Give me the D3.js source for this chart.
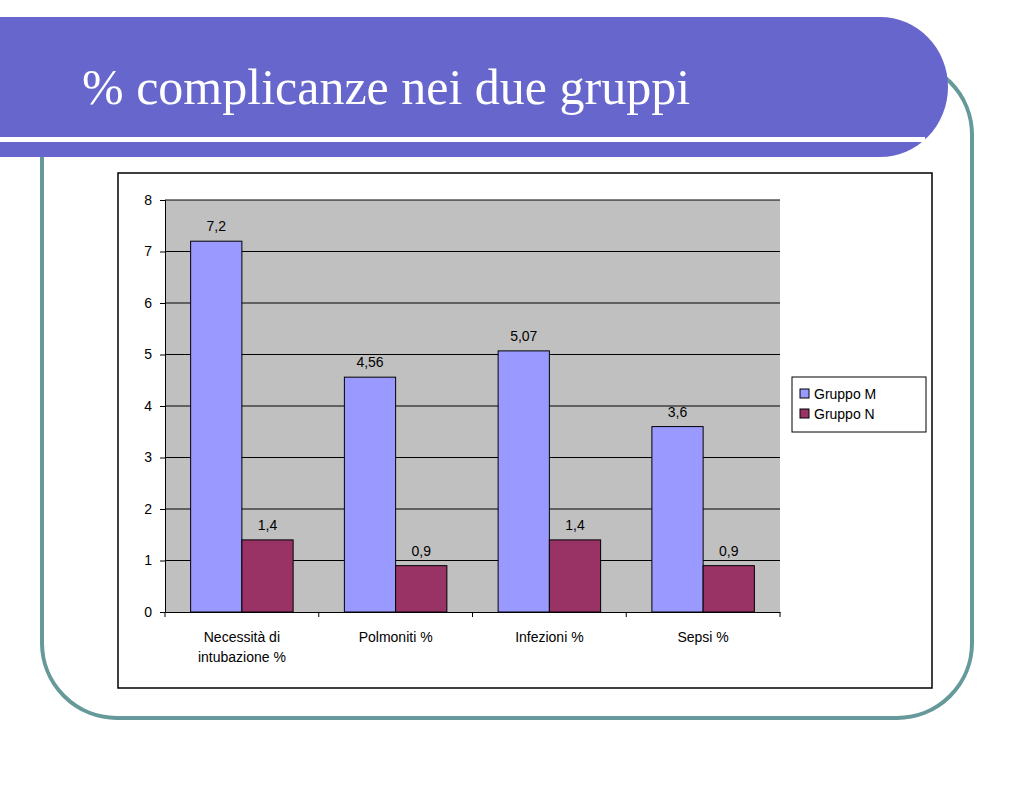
<!DOCTYPE html>
<html><head><meta charset="utf-8">
<script src="https://cdn.jsdelivr.net/npm/d3@7"></script>
<style>body{margin:0;background:#fff}</style>
</head><body>
<script>
const categories = ["Necessità di|intubazione %", "Polmoniti %", "Infezioni %", "Sepsi %"]
const seriesNames = ["Gruppo M", "Gruppo N"]
const gruppoM = [7.2, 4.56, 5.07, 3.6]
const gruppoN = [1.4, 0.9, 1.4, 0.9]
const labelsM = ["7,2", "4,56", "5,07", "3,6"]
const labelsN = ["1,4", "0,9", "1,4", "0,9"]
const yTicks = [0, 1, 2, 3, 4, 5, 6, 7, 8]
const colors = ["#9999ff", "#993366"]

const svg = d3.select("body").append("svg").attr("width", 1023).attr("height", 787)

// teal frame
svg.append("rect").attr("x", 42).attr("y", 60).attr("width", 930).attr("height", 658)
  .attr("rx", 75).attr("fill", "none").attr("stroke", "#669999").attr("stroke-width", 4)

// banner
svg.append("path")
  .attr("d", "M0,17 H880 A68,70 0 0 1 948,87 A68,70 0 0 1 880,157 H0 Z")
  .attr("fill", "#6666cc")
svg.append("rect").attr("x", 0).attr("y", 137).attr("width", 925).attr("height", 5).attr("fill", "#fff")
svg.append("text").attr("x", 82).attr("y", 104)
  .style("font-family", "Liberation Serif, serif").style("font-size", "50px").attr("fill", "#fff")
  .text("% complicanze nei due gruppi")

// chart box
svg.append("rect").attr("x", 118).attr("y", 173).attr("width", 814).attr("height", 515)
  .attr("fill", "#fff").attr("stroke", "#000").attr("stroke-width", 1.5)

const m = {l: 165, r: 780, t: 200, b: 612}
const x = d3.scaleBand().domain(categories).range([m.l, m.r])
const xs = d3.scaleBand().domain(seriesNames).range([0, x.bandwidth()]).paddingInner(0).paddingOuter(0.5)
const y = d3.scaleLinear().domain([0, 8]).range([m.b, m.t])

svg.append("rect").attr("x", m.l).attr("y", m.t).attr("width", m.r - m.l).attr("height", m.b - m.t)
  .attr("fill", "#c0c0c0")

const g = svg.append("g")
g.selectAll("line.grid").data(yTicks.slice(1)).join("line")
  .attr("x1", m.l).attr("x2", m.r).attr("y1", d => y(d)).attr("y2", d => y(d)).attr("stroke", "#000")

const font = "Liberation Sans, Arial, sans-serif"
const yAxis = svg.append("g").attr("transform", `translate(${m.l},0)`)
  .call(d3.axisLeft(y).tickValues(yTicks).tickSize(5).tickPadding(8))
const xAxis = svg.append("g").attr("transform", `translate(0,${m.b})`)
  .call(d3.axisBottom(x).tickSize(0).tickFormat(""))
xAxis.selectAll(".tick").remove()
xAxis.selectAll("line.sep").data(d3.range(categories.length + 1)).join("line")
  .attr("x1", i => m.l + i * x.step()).attr("x2", i => m.l + i * x.step()).attr("y1", 0).attr("y2", 5)
  .attr("stroke", "#000")
svg.selectAll(".domain").attr("stroke", "#000")
yAxis.selectAll("text").style("font-family", font).style("font-size", "14px").attr("fill", "#000")

categories.forEach(c => {
  const t = svg.append("text").attr("x", x(c) + x.bandwidth() / 2).attr("y", m.b + 30)
    .attr("text-anchor", "middle").style("font-family", font).style("font-size", "14px")
  c.split("|").forEach((s, i) => t.append("tspan").attr("x", x(c) + x.bandwidth() / 2).attr("dy", i ? 20 : 0).text(s))
})

const series = [gruppoM, gruppoN]
const labels = [labelsM, labelsN]
series.forEach((vals, si) => {
  svg.append("g").selectAll("rect").data(vals).join("rect")
    .attr("x", (d, i) => x(categories[i]) + xs(seriesNames[si]))
    .attr("y", d => y(d)).attr("width", xs.bandwidth()).attr("height", d => y(0) - y(d))
    .attr("fill", colors[si]).attr("stroke", "#000").attr("stroke-width", 1)
  svg.append("g").selectAll("text").data(vals).join("text")
    .attr("x", (d, i) => x(categories[i]) + xs(seriesNames[si]) + xs.bandwidth() / 2)
    .attr("y", d => y(d) - 10).attr("text-anchor", "middle")
    .style("font-family", font).style("font-size", "14px").text((d, i) => labels[si][i])
})

// legend
const lg = svg.append("g").attr("transform", "translate(792,377)")
lg.append("rect").attr("width", 134).attr("height", 55).attr("fill", "#fff").attr("stroke", "#000")
seriesNames.forEach((s, i) => {
  lg.append("rect").attr("x", 8).attr("y", 12 + i * 20).attr("width", 9).attr("height", 9)
    .attr("fill", colors[i]).attr("stroke", "#000")
  lg.append("text").attr("x", 22).attr("y", 22 + i * 20).style("font-family", font).style("font-size", "14px").text(s)
})
</script>
</body></html>
